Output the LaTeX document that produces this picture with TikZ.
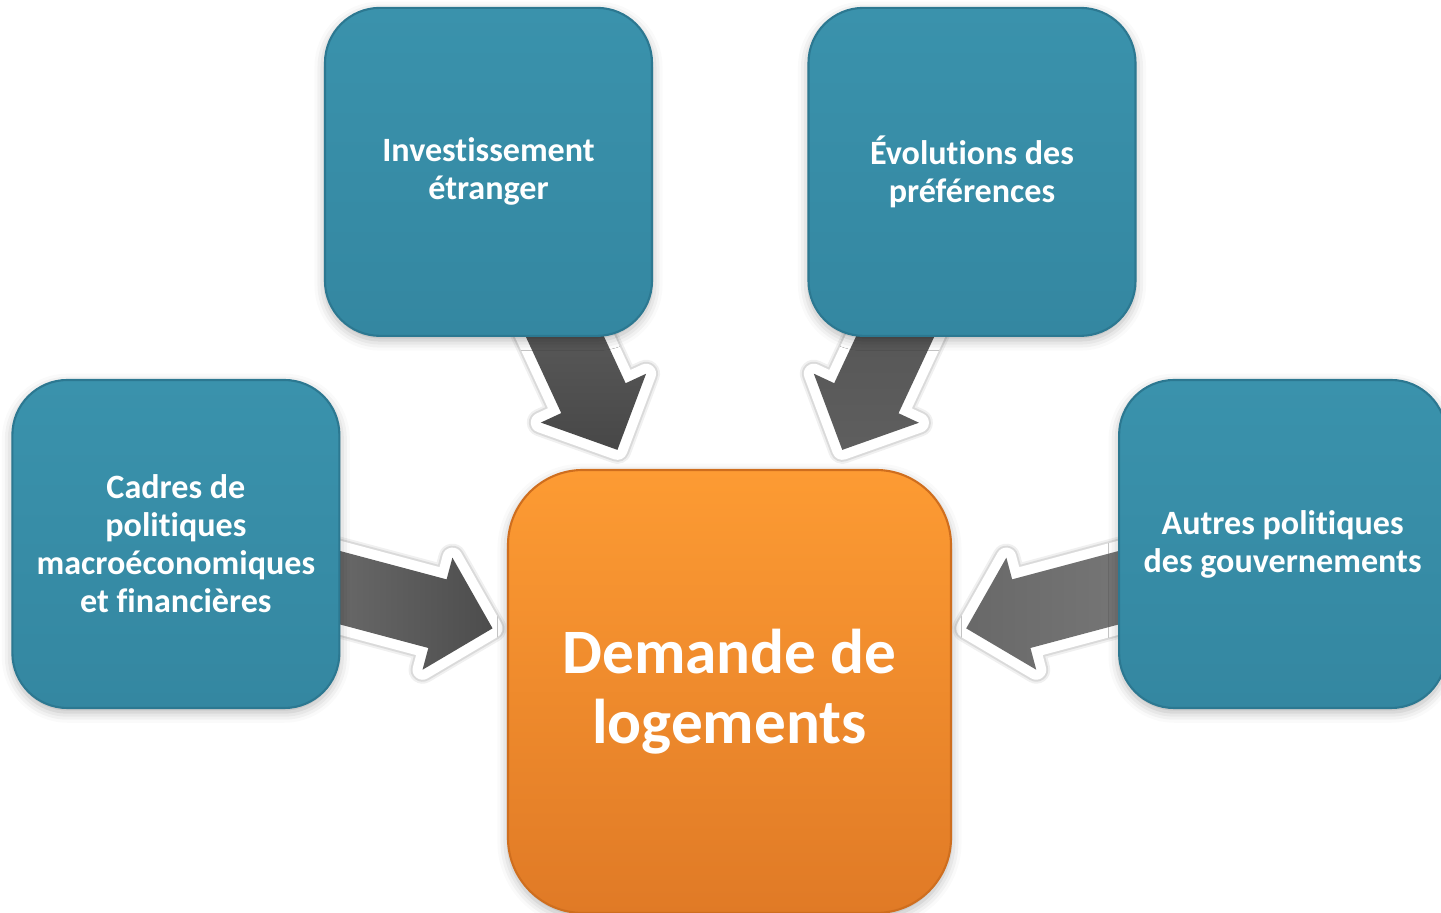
\documentclass[tikz,border=0pt]{standalone}
\usepackage{fontspec}
\setmainfont{Carlito}[Ligatures=NoCommon]
\usetikzlibrary{positioning, calc, shadows.blur, backgrounds}

\definecolor{tealtop}{HTML}{3A92AC}
\definecolor{tealbot}{HTML}{3487A1}
\definecolor{tealrim}{HTML}{2C7891}
\definecolor{orangetop}{HTML}{FD9B33}
\definecolor{orangebot}{HTML}{E07A26}
\definecolor{orangerim}{HTML}{CF6E1E}

% block arrow from one box towards another, tip at a fraction of the way
\newcommand\drawpush[4]{%
  \path ($(#1)!0.25!(#2)$) coordinate (tail)
        ($(#1)!#3!(#2)$) coordinate (tip)
        ($(tip)!0.57cm!(tail)$) coordinate (neck);
  \path[blockarrow, #4]
    ($(tail)!0.355cm!90:(tip)$) -- ($(neck)!0.355cm!-90:(tail)$)
    -- ($(neck)!0.58cm!-90:(tail)$) -- (tip)
    -- ($(neck)!0.58cm!90:(tail)$) -- ($(neck)!0.355cm!90:(tail)$)
    -- ($(tail)!0.355cm!-90:(tip)$) -- cycle;
}

\begin{document}
\begin{tikzpicture}[
    factor/.style={rectangle, rounded corners=0.55cm, minimum width=3.27cm, minimum height=3.28cm,
      align=center, text=white, font=\fontsize{9.7}{10.8}\selectfont\bfseries,
      top color=tealtop, bottom color=tealbot, draw=tealrim, line width=0.6pt,
      blur shadow={shadow xshift=0pt, shadow yshift=-1.2pt, shadow opacity=30, shadow blur radius=3pt}},
    demand/.style={rectangle, rounded corners=0.75cm, minimum width=4.43cm, minimum height=4.43cm,
      align=center, text=white, font=\fontsize{18}{19.9}\selectfont\bfseries,
      top color=orangetop, bottom color=orangebot, draw=orangerim, line width=0.6pt,
      blur shadow={shadow xshift=0pt, shadow yshift=-1.2pt, shadow opacity=30, shadow blur radius=3pt}},
    blockarrow/.style={
      preaction={draw=black, draw opacity=0.06, line width=0.28cm, line join=round},
      preaction={draw=black, draw opacity=0.09, line width=0.24cm, line join=round},
      preaction={draw=white, line width=0.2cm, line join=round}}
]
\useasboundingbox (-7.295,-2.215) rectangle (7.115,6.915);

\node[demand] (dem) {Demande de\\logements};
\node[factor, above=1.32cm of dem, xshift=-2.41cm] (inv) {Investissement\\étranger};
\node[factor, above=1.32cm of dem, xshift=2.425cm] (evo) {Évolutions des\\préférences};
\node[factor, left=1.665cm of dem, yshift=1.475cm] (cad) {Cadres de\\politiques\\macroéconomiques\\et financières};
\node[factor, right=1.66cm of dem, yshift=1.475cm] (aut) {Autres politiques\\des gouvernements};

\begin{pgfonlayer}{background}
\drawpush{inv}{dem}{0.535}{top color=black!63, bottom color=black!72}
\drawpush{evo}{dem}{0.535}{top color=black!67, bottom color=black!63}
\drawpush{cad}{dem}{0.572}{left color=black!57, right color=black!70}
\drawpush{aut}{dem}{0.572}{left color=black!59, right color=black!53}
\end{pgfonlayer}
\end{tikzpicture}
\end{document}
